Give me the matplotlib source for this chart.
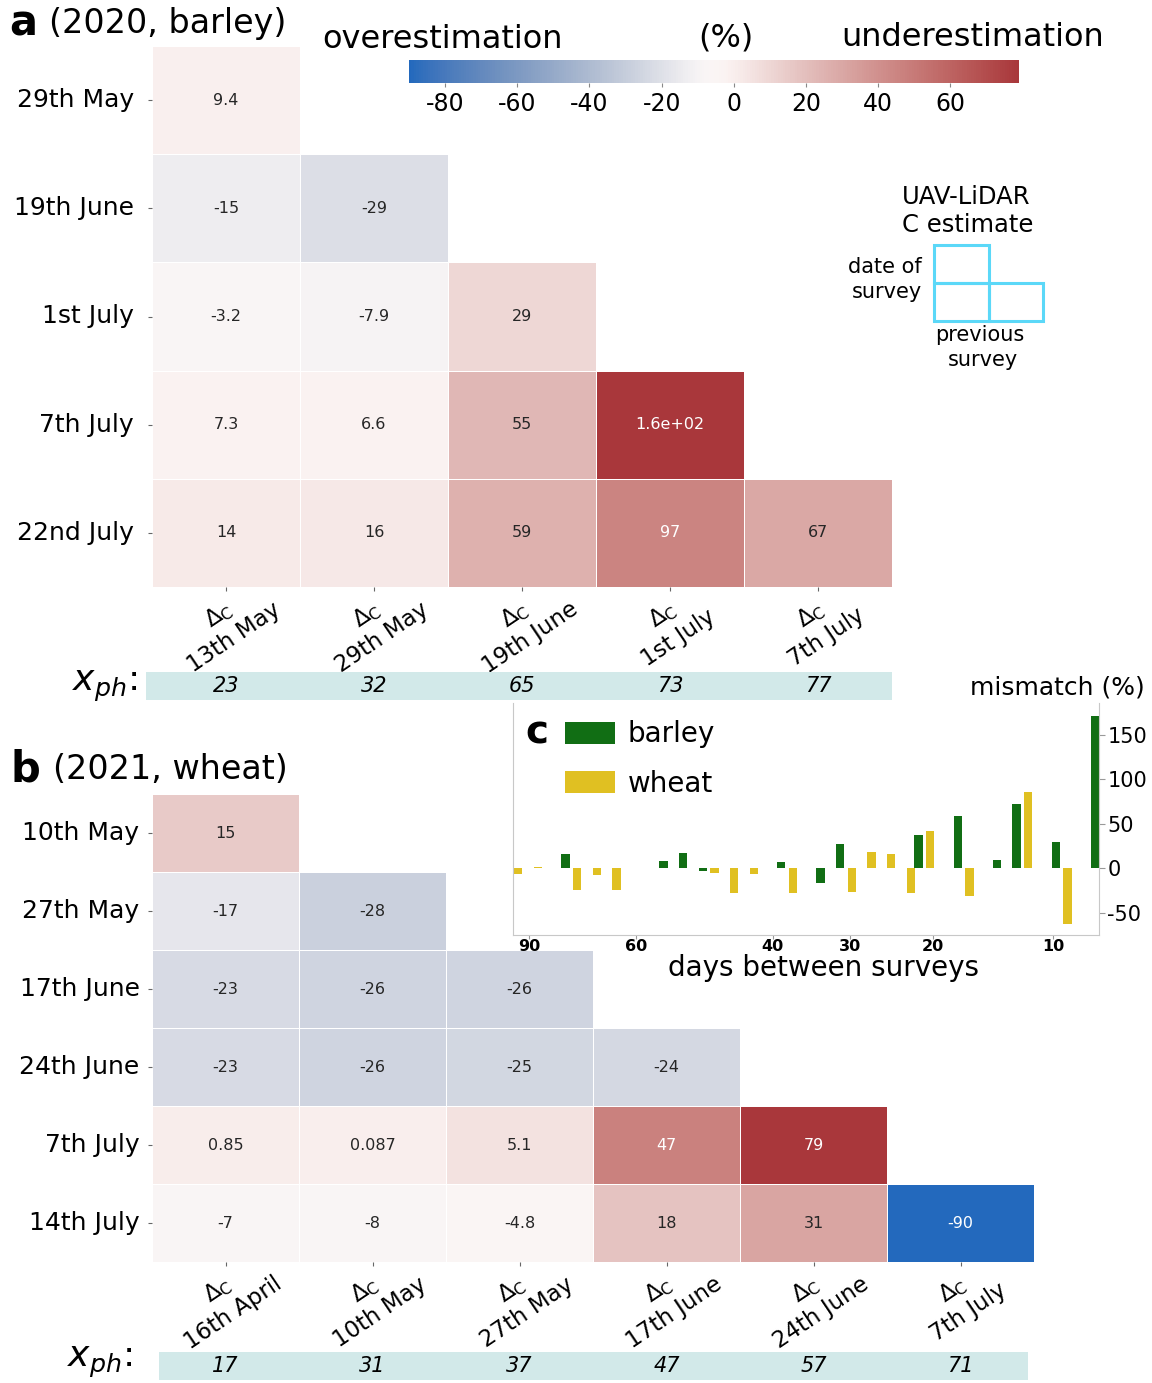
"""
Lower-triangular mismatch heatmaps (barley 2020, wheat 2021) and mismatch vs survey gap.
"""
import numpy as np
import matplotlib
matplotlib.use("Agg")
import matplotlib.pyplot as plt
import matplotlib.transforms as mtransforms
from matplotlib.patches import Rectangle
import seaborn as sns

plt.rcParams["font.family"] = ["DejaVu Sans"]
plt.rcParams["axes.unicode_minus"] = False

nan = np.nan

# ---- panel a: barley 2020 ----
barley_dates = ["29th May", "19th June", "1st July", "7th July", "22nd July"]
barley_prev = ["13th May", "29th May", "19th June", "1st July", "7th July"]
barley_mis = np.array([
    [9.4, nan, nan, nan, nan],
    [-15, -29, nan, nan, nan],
    [-3.2, -7.9, 29, nan, nan],
    [7.3, 6.6, 55, 160, nan],
    [14, 16, 59, 97, 67],
])
barley_xph = [23, 32, 65, 73, 77]

# ---- panel b: wheat 2021 ----
wheat_dates = ["10th May", "27th May", "17th June", "24th June", "7th July", "14th July"]
wheat_prev = ["16th April", "10th May", "27th May", "17th June", "24th June", "7th July"]
wheat_mis = np.array([
    [15, nan, nan, nan, nan, nan],
    [-17, -28, nan, nan, nan, nan],
    [-23, -26, -26, nan, nan, nan],
    [-23, -26, -25, -24, nan, nan],
    [0.85, 0.087, 5.1, 47, 79, nan],
    [-7, -8, -4.8, 18, 31, -90],
])
wheat_xph = [17, 31, 37, 47, 57, 71]

# ---- panel c: mismatch per slot, ordered by decreasing days between surveys ----
c_barley = [nan, nan, nan, 16, nan, nan, nan, nan, 8, 17,
            -3, nan, nan, nan, 7, nan, -16, 27, nan, nan,
            nan, 37, nan, 59, nan, 9, 72, nan, 30, nan, 171]
c_wheat = [-6, 1, nan, -24, -7, -24, nan, nan, nan, nan,
           -5, -28, -6, nan, -28, nan, nan, -27, 18, 16,
           -28, 42, nan, -31, nan, nan, 86, nan, -63, nan, nan]
c_days = [90, 60, 40, 30, 20, 10]
c_day_slot = [0.86, 6.3, 13.27, 17.23, 21.45, 27.55]

W, H = 1152, 1383


def fx(x):
    return x / W


def fy(y):
    return 1 - y / H


fig = plt.figure(figsize=(W / 100, H / 100), dpi=100)
fig.patch.set_facecolor("white")

ax_a = fig.add_axes([fx(152), fy(587), 740 / W, 541 / H])
ax_b = fig.add_axes([fx(152), fy(1262), 882 / W, 468 / H])
cax = fig.add_axes([fx(409), fy(83), 610 / W, 23 / H])

delta = r"$\Delta_\mathrm{C}$"


def draw_heat(ax, mis, rows, cols, ypad, xpad, **kw):
    sns.heatmap(mis, mask=np.isnan(mis), cmap="vlag", annot=True, fmt=".2g",
                annot_kws={"fontsize": 11.5}, linewidths=0.7, linecolor="white",
                xticklabels=[delta + "\n" + c for c in cols], yticklabels=rows, ax=ax, **kw)
    ax.set_yticklabels(rows, rotation=0, fontsize=18)
    ax.set_xticklabels([delta + "\n" + c for c in cols], rotation=34, ha="center", va="center",
                       rotation_mode="anchor", multialignment="center", fontsize=16.5)
    ax.tick_params(axis="both", length=3, color="#666666")
    ax.tick_params(axis="x", pad=xpad)
    ax.tick_params(axis="y", pad=ypad)


# barley is centred on zero, wheat spans its own data range (as does the colourbar)
draw_heat(ax_a, barley_mis, barley_dates, barley_prev, 10, 25, center=0, cbar=False)
draw_heat(ax_b, wheat_mis, wheat_dates, wheat_prev, 6, 25, vmin=-90, vmax=79,
          cbar=True, cbar_ax=cax,
          cbar_kws={"orientation": "horizontal", "ticks": [-80, -60, -40, -20, 0, 20, 40, 60]})
cax.tick_params(labelsize=17, length=3, color="#888888")

# colourbar labels
fig.text(fx(443), fy(40), "overestimation", fontsize=23, ha="center", va="center")
fig.text(fx(726), fy(38), "(%)", fontsize=23, ha="center", va="center")
fig.text(fx(973), fy(38), "underestimation", fontsize=23, ha="center", va="center")

# panel titles
fig.text(fx(9), fy(24), "a", fontsize=30, fontweight="bold", ha="left", va="center")
fig.text(fx(49), fy(24), "(2020, barley)", fontsize=24, ha="left", va="center")
fig.text(fx(11), fy(770), "b", fontsize=30, fontweight="bold", ha="left", va="center")
fig.text(fx(53), fy(770), "(2021, wheat)", fontsize=24, ha="left", va="center")

# x_ph bands
band = "#d2e9e9"
for ax, vals, x0, x1, yc in [(ax_a, barley_xph, -0.04, 5.0, 686),
                             (ax_b, wheat_xph, 0.05, 5.96, 1366)]:
    tr = mtransforms.blended_transform_factory(ax.transData, fig.transFigure)
    fig.patches.append(Rectangle((x0, fy(yc + 14)), x1 - x0, 28 / H, transform=tr,
                                 facecolor=band, edgecolor="none", zorder=0))
    for j, v in enumerate(vals):
        fig.text(j + 0.5, fy(yc), str(v), transform=tr, fontsize=15, style="italic",
                 ha="center", va="center")
fig.text(fx(105), fy(686), r"$x_{ph}$:", fontsize=26, ha="center", va="center")
fig.text(fx(100), fy(1362), r"$x_{ph}$:", fontsize=26, ha="center", va="center")

# schematic of cell meaning
fig.text(fx(966), fy(197), "UAV-LiDAR", fontsize=17.5, ha="center", va="center")
fig.text(fx(968), fy(225), "C estimate", fontsize=17.5, ha="center", va="center")
fig.text(fx(922), fy(267), "date of", fontsize=15, ha="right", va="center")
fig.text(fx(922), fy(292), "survey", fontsize=15, ha="right", va="center")
fig.text(fx(980), fy(335), "previous", fontsize=15, ha="center", va="center")
fig.text(fx(983), fy(360), "survey", fontsize=15, ha="center", va="center")
cyan = "#5bd8f8"
for x0, y0, w, h in [(934, 245, 55, 38), (934, 283, 55, 38), (989, 283, 54, 38)]:
    fig.patches.append(Rectangle((fx(x0), fy(y0 + h)), w / W, h / H, transform=fig.transFigure,
                                 facecolor="none", edgecolor=cyan, linewidth=2.2, zorder=3))

# ---- panel c ----
ax_c = fig.add_axes([fx(513), fy(935), 586 / W, 232 / H])
ax_c.set_facecolor("white")
slots = np.arange(len(c_barley))
ax_c.bar(slots - 0.3, c_barley, width=0.42, color="#116e14", label="barley")
ax_c.bar(slots + 0.3, c_wheat, width=0.42, color="#e0c022", label="wheat")
ax_c.set_xlim(0.03, 29.9)
ax_c.set_ylim(-75, 186)
ax_c.yaxis.tick_right()
ax_c.set_yticks([-50, 0, 50, 100, 150])
ax_c.tick_params(axis="y", labelsize=15, length=4, color="#999999", pad=2)
ax_c.set_xticks(c_day_slot)
ax_c.set_xticklabels([str(d) for d in c_days], fontsize=11.5, fontweight="bold")
ax_c.tick_params(axis="x", length=3, color="#999999", pad=0)
for s in ["left", "bottom", "right"]:
    ax_c.spines[s].set_color("#c8c8c8")
ax_c.spines["top"].set_visible(False)
ax_c.legend(loc="upper left", bbox_to_anchor=(0.089, 0.925), frameon=False, fontsize=20,
            handlelength=1.8, handleheight=0.85, labelspacing=0.77, borderpad=0,
            borderaxespad=0, handletextpad=0.45)
fig.text(fx(537), fy(733), "c", fontsize=28, fontweight="bold", ha="center", va="center")
fig.text(fx(1057), fy(688), "mismatch (%)", fontsize=18, ha="center", va="center")
fig.text(fx(824), fy(968), "days between surveys", fontsize=20, ha="center", va="center")

fig.savefig("out.png", dpi=100)
